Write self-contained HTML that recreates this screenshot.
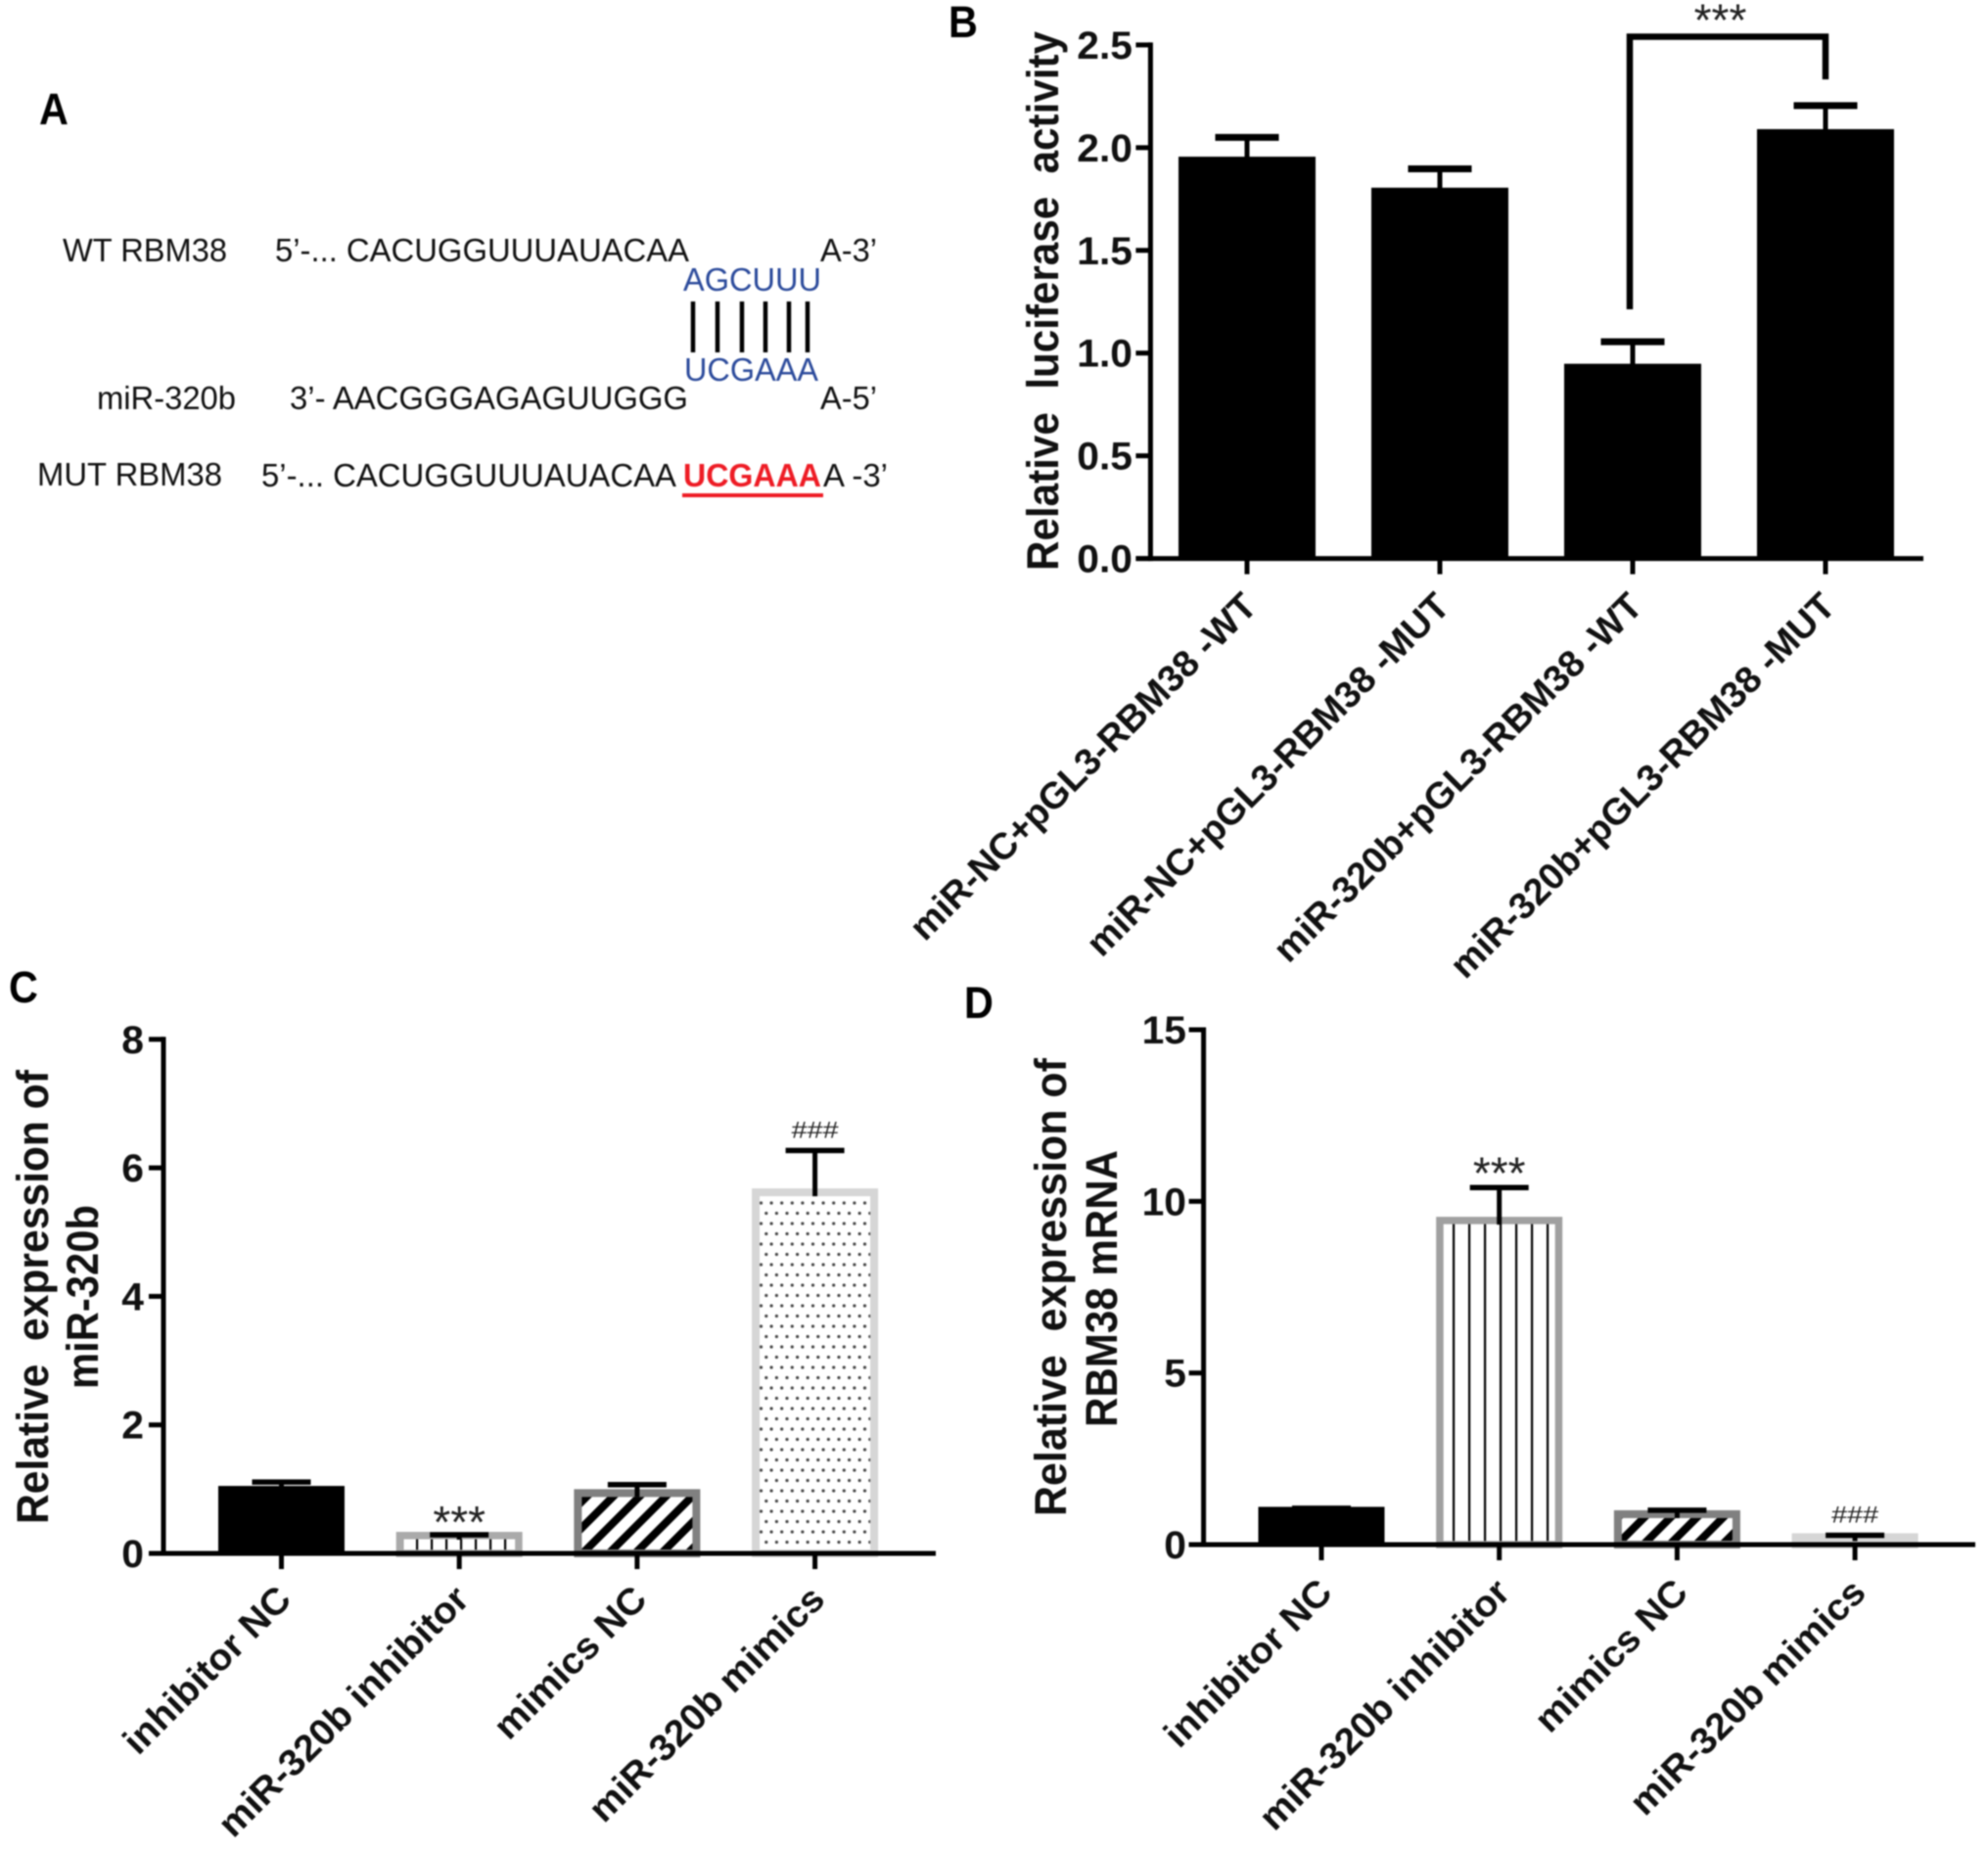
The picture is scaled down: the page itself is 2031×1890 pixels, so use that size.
<!DOCTYPE html>
<html lang="en">
<head>
<meta charset="utf-8">
<title>miR-320b and RBM38 figure</title>
<style>
html,body{margin:0;padding:0;background:#fff;}
svg{display:block;filter:blur(0.8px);}
text{font-family:"Liberation Sans",sans-serif;white-space:pre;}
.seq{font-size:33px;fill:#111;}
.blue{font-size:33px;fill:#2b4a9b;}
.panel{font-weight:bold;fill:#000;}
.title{font-size:45px;font-weight:bold;fill:#111;}
</style>
</head>
<body>
<svg id="figure" xmlns="http://www.w3.org/2000/svg" width="2031" height="1890" viewBox="0 0 2031 1890">
<defs>
<pattern id="pat-vertical-c" patternUnits="userSpaceOnUse" x="425" y="0" width="15" height="20"><rect x="0" y="0" width="2.2" height="20" fill="#000"/></pattern>
<pattern id="pat-vertical-d" patternUnits="userSpaceOnUse" x="1484" y="0" width="16" height="20"><rect x="0" y="0" width="2.2" height="20" fill="#000"/></pattern>
<pattern id="pat-diagonal" patternUnits="userSpaceOnUse" width="19" height="19" patternTransform="rotate(45)"><rect x="0" y="0" width="8" height="19" fill="#000"/></pattern>
<pattern id="pat-dots" patternUnits="userSpaceOnUse" x="775" y="1100" width="10.6" height="21"><circle cx="2.5" cy="3" r="1.6" fill="#444"/><circle cx="7.8" cy="13.5" r="1.6" fill="#444"/></pattern>
</defs>
<rect x="0" y="0" width="2031" height="1890" fill="#fff"/>

<text class="panel" transform="translate(40,127) scale(0.92,1)" font-size="45">A</text>
<text class="panel" transform="translate(969,38) scale(0.92,1)" font-size="45">B</text>
<text class="panel" transform="translate(9,1024) scale(0.92,1)" font-size="45">C</text>
<text class="panel" transform="translate(985,1040) scale(0.92,1)" font-size="45">D</text>

<g>
<text class="seq" x="64" y="267" textLength="168" lengthAdjust="spacingAndGlyphs">WT RBM38</text>
<text class="seq" x="281" y="267" textLength="423" lengthAdjust="spacingAndGlyphs">5’-... CACUGGUUUAUACAA</text>
<text class="seq" x="838" y="267" textLength="58" lengthAdjust="spacingAndGlyphs">A-3’</text>
<text class="blue" x="698" y="297" textLength="141" lengthAdjust="spacingAndGlyphs">AGCUUU</text>
<g stroke="#000" stroke-width="4.5">
<line x1="708" y1="308" x2="708" y2="360"/>
<line x1="733" y1="308" x2="733" y2="360"/>
<line x1="758" y1="308" x2="758" y2="360"/>
<line x1="782" y1="308" x2="782" y2="360"/>
<line x1="806" y1="308" x2="806" y2="360"/>
<line x1="825" y1="308" x2="825" y2="360"/>
</g>
<text class="blue" x="699" y="389" textLength="137" lengthAdjust="spacingAndGlyphs">UCGAAA</text>
<text class="seq" x="99" y="418" textLength="142" lengthAdjust="spacingAndGlyphs">miR-320b</text>
<text class="seq" x="296" y="418" textLength="407" lengthAdjust="spacingAndGlyphs">3’- AACGGGAGAGUUGGG</text>
<text class="seq" x="838" y="418" textLength="58" lengthAdjust="spacingAndGlyphs">A-5’</text>
<text class="seq" x="38" y="496" textLength="189" lengthAdjust="spacingAndGlyphs">MUT RBM38</text>
<text class="seq" x="267" y="497" textLength="424" lengthAdjust="spacingAndGlyphs">5’-... CACUGGUUUAUACAA</text>
<text x="698" y="497" textLength="141" lengthAdjust="spacingAndGlyphs" font-size="33" font-weight="bold" fill="#ee1c25">UCGAAA</text>
<text class="seq" x="841" y="497" textLength="66" lengthAdjust="spacingAndGlyphs">A -3’</text>
<rect x="697" y="504" width="144" height="4" fill="#ee1c25"/>
</g>

<text class="title" transform="translate(1081,583) rotate(-90)" textLength="551" lengthAdjust="spacingAndGlyphs">Relative  luciferase  activity</text>
<text class="title" transform="translate(49,1557) rotate(-90)" textLength="464" lengthAdjust="spacingAndGlyphs">Relative  expression of</text>
<text class="title" transform="translate(100,1419) rotate(-90)" textLength="188" lengthAdjust="spacingAndGlyphs">miR-320b</text>
<text class="title" transform="translate(1089,1549) rotate(-90)" textLength="468" lengthAdjust="spacingAndGlyphs">Relative  expression of</text>
<text class="title" transform="translate(1141,1458) rotate(-90)" textLength="283" lengthAdjust="spacingAndGlyphs">RBM38 mRNA</text>

<g id="chart-b"></g>
<g id="chart-c"></g>
<g id="chart-d"></g>
</svg>

<script>
// Panel B data
const bCategories = ["miR-NC+pGL3-RBM38 -WT", "miR-NC+pGL3-RBM38 -MUT", "miR-320b+pGL3-RBM38 -WT", "miR-320b+pGL3-RBM38 -MUT"];
const bValues = [1.956, 1.805, 0.948, 2.09];
const bErrorTops = [2.05, 1.897, 1.055, 2.205];
const bTicks = [0, 0.5, 1, 1.5, 2, 2.5];
const bTickLabels = ["0.0", "0.5", "1.0", "1.5", "2.0", "2.5"];
const bBracketLevels = [1.213, 2.54, 2.332];

// Panel C data
const cCategories = ["inhibitor NC", "miR-320b inhibitor", "mimics NC", "miR-320b mimics"];
const cValues = [1.05, 0.335, 1.0, 5.68];
const cErrorTops = [1.11, 0.29, 1.07, 6.27];
const cTicks = [0, 2, 4, 6, 8];
const cTickLabels = ["0", "2", "4", "6", "8"];
const cMarks = ["", "***", "", "###"];

// Panel D data
const dCategories = ["inhibitor NC", "miR-320b inhibitor", "mimics NC", "miR-320b mimics"];
const dValues = [1.1, 9.55, 1.0, 0.33];
const dErrorTops = [1.06, 10.4, 1.0, 0.27];
const dTicks = [0, 5, 10, 15];
const dTickLabels = ["0", "5", "10", "15"];
const dMarks = ["", "***", "", "###"];

const SVG_NS = "http://www.w3.org/2000/svg";
const AXIS_WIDTH = 5;

function svgEl(tag, attrs, parent, name) {
  const el = document.createElementNS(SVG_NS, tag);
  for (const k in attrs) el.setAttribute(k, attrs[k]);
  
  
  parent.appendChild(el);
  return el;
}

function drawChart(cfg) {
  const root = document.getElementById(cfg.id);
  const yScale = v => cfg.baseY - (v / cfg.yMax) * (cfg.baseY - cfg.topY);
  const xScale = i => cfg.firstX + i * cfg.stepX;
  const prefix = cfg.id + '-';

  cfg.values.forEach((v, i) => {
    const cx = xScale(i);
    const top = yScale(v);
    const st = cfg.barStyles[i];
    const sw = st.stroke === 'none' ? 0 : st.width;
    svgEl('rect', {
      x: cx - cfg.barW / 2 + sw / 2, y: top + sw / 2,
      width: cfg.barW - sw, height: Math.max(0, cfg.baseY - top - sw / 2),
      fill: st.fill, stroke: st.stroke, 'stroke-width': sw
    }, root, prefix + 'bar-' + (i + 1));
  });

  cfg.errorTops.forEach((e, i) => {
    const cx = xScale(i);
    const capY = yScale(e);
    const barTop = yScale(cfg.values[i]);
    svgEl('line', { x1: cx, x2: cx, y1: capY, y2: Math.max(barTop + 8, capY), stroke: '#000', 'stroke-width': 5 }, root, prefix + 'error-stem-' + (i + 1));
    svgEl('line', { x1: cx - cfg.capW / 2, x2: cx + cfg.capW / 2, y1: capY, y2: capY, stroke: '#000', 'stroke-width': cfg.capH }, root, prefix + 'error-cap-' + (i + 1));
  });

  svgEl('line', { x1: cfg.axisX, x2: cfg.axisX, y1: yScale(cfg.yMax) - 2.5, y2: cfg.baseY + 2.5, stroke: '#000', 'stroke-width': AXIS_WIDTH }, root, prefix + 'y-axis-line');
  svgEl('line', { x1: cfg.axisX - 15, x2: cfg.baseEndX, y1: cfg.baseY, y2: cfg.baseY, stroke: '#000', 'stroke-width': AXIS_WIDTH }, root, prefix + 'x-axis-line');

  cfg.ticks.forEach((t, i) => {
    const y = yScale(t);
    svgEl('line', { x1: cfg.axisX - 15, x2: cfg.axisX, y1: y, y2: y, stroke: '#000', 'stroke-width': AXIS_WIDTH }, root, prefix + 'y-tick-' + i);
    const label = svgEl('text', {
      transform: 'translate(' + cfg.tickLabelX + ',' + (y + 14) + ') scale(1.02,1)',
      'text-anchor': 'end', 'font-size': 40, 'font-weight': 'bold', fill: '#111'
    }, root, prefix + 'y-tick-label-' + i);
    label.textContent = cfg.tickLabels[i];
  });

  cfg.categories.forEach((c, i) => {
    const cx = xScale(i);
    svgEl('line', { x1: cx, x2: cx, y1: cfg.baseY, y2: cfg.baseY + 16, stroke: '#000', 'stroke-width': AXIS_WIDTH }, root, prefix + 'x-tick-' + i);
    const label = svgEl('text', {
      transform: 'translate(' + (cx + cfg.labelDX) + ',' + (cfg.baseY + cfg.labelDY) + ') rotate(-45) scale(' + cfg.labelScale + ',1)',
      'text-anchor': 'end', 'font-size': 38, 'font-weight': 'bold', fill: '#111'
    }, root, prefix + 'x-tick-label-' + i);
    label.textContent = c;
  });

  (cfg.marks || []).forEach((m, i) => {
    if (!m) return;
    const cx = xScale(i);
    const centerY = yScale(cfg.errorTops[i]) - 21;
    if (m === '***') {
      const t = svgEl('text', { x: cx, y: centerY + cfg.starOffset, 'text-anchor': 'middle', 'font-size': 46, fill: '#222' }, root, prefix + 'significance-stars-' + (i + 1));
      t.textContent = m;
    } else {
      const t = svgEl('text', { transform: 'translate(' + cx + ',' + (centerY + 8) + ') scale(1.2,1)', 'text-anchor': 'middle', 'font-size': 24, fill: '#222' }, root, prefix + 'significance-hash-' + (i + 1));
      t.textContent = m;
    }
  });

  return { xScale, yScale, root };
}

const black = { fill: '#000', stroke: 'none', width: 0 };

const chartB = drawChart({
  id: 'chart-b', categories: bCategories, values: bValues, errorTops: bErrorTops,
  ticks: bTicks, tickLabels: bTickLabels, yMax: 2.5,
  baseY: 570.6, topY: 45.9, axisX: 1175.4, baseEndX: 1965,
  firstX: 1274, stepX: 197, barW: 140, capW: 65, capH: 7,
  tickLabelX: 1157, labelDX: 12, labelDY: 51, labelScale: 1.0,
  barStyles: [black, black, black, black]
});

const cBarStyles = [
  black,
  { fill: 'url(#pat-vertical-c)', stroke: '#aaaaaa', width: 7.5 },
  { fill: 'url(#pat-diagonal)', stroke: '#808080', width: 8 },
  { fill: 'url(#pat-dots)', stroke: '#d6d6d6', width: 8 }
];
drawChart({
  id: 'chart-c', categories: cCategories, values: cValues, errorTops: cErrorTops,
  ticks: cTicks, tickLabels: cTickLabels, yMax: 8, marks: cMarks,
  baseY: 1587, topY: 1061.8, axisX: 167, baseEndX: 956,
  firstX: 287.5, stepX: 181.7, barW: 129, capW: 60, capH: 5.5,
  tickLabelX: 147, labelDX: 12, labelDY: 49, labelScale: 1.03, starOffset: 24,
  barStyles: cBarStyles
});

const dBarStyles = [
  black,
  { fill: 'url(#pat-vertical-d)', stroke: '#a0a0a0', width: 7.5 },
  { fill: 'url(#pat-diagonal)', stroke: '#808080', width: 8 },
  { fill: '#fff', stroke: '#d6d6d6', width: 8 }
];
drawChart({
  id: 'chart-d', categories: dCategories, values: dValues, errorTops: dErrorTops,
  ticks: dTicks, tickLabels: dTickLabels, yMax: 15, marks: dMarks,
  baseY: 1578, topY: 1052, axisX: 1229.6, baseEndX: 2018,
  firstX: 1350, stepX: 181.7, barW: 129, capW: 60, capH: 5.5,
  tickLabelX: 1212, labelDX: 13, labelDY: 51, labelScale: 1.03, starOffset: 22,
  barStyles: dBarStyles
});

// Significance bracket in panel B
const bracketPath = document.createElementNS(SVG_NS, 'polyline');
bracketPath.setAttribute('points', [
  (chartB.xScale(2) - 3) + ',' + chartB.yScale(bBracketLevels[0]),
  (chartB.xScale(2) - 3) + ',' + chartB.yScale(bBracketLevels[1]),
  chartB.xScale(3) + ',' + chartB.yScale(bBracketLevels[1]),
  chartB.xScale(3) + ',' + chartB.yScale(bBracketLevels[2])
].join(' '));
bracketPath.setAttribute('fill', 'none');
bracketPath.setAttribute('stroke', '#000');
bracketPath.setAttribute('stroke-width', '6.5');


chartB.root.appendChild(bracketPath);

const bracketStars = document.createElementNS(SVG_NS, 'text');
bracketStars.setAttribute('x', (chartB.xScale(2) + chartB.xScale(3)) / 2 - 9);
bracketStars.setAttribute('y', chartB.yScale(bBracketLevels[1]) - 1);
bracketStars.setAttribute('text-anchor', 'middle');
bracketStars.setAttribute('font-size', '46');
bracketStars.setAttribute('fill', '#222');


bracketStars.textContent = '***';
chartB.root.appendChild(bracketStars);
</script>
</body>
</html>
